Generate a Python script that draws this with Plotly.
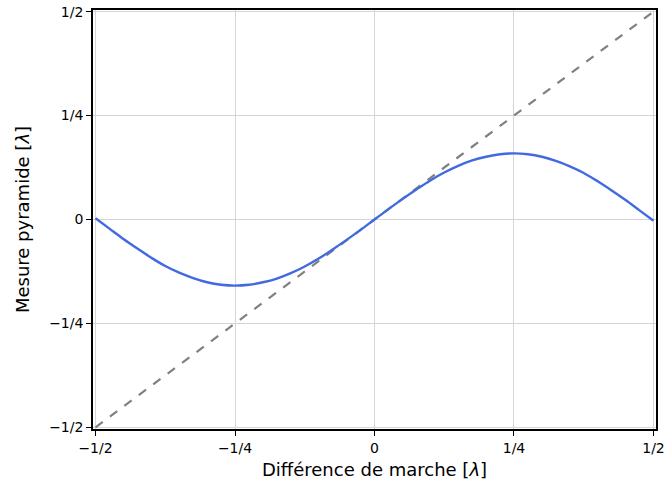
import plotly.graph_objects as go

# Data
x_vals = [-0.5, -0.475, -0.45, -0.425, -0.4, -0.375, -0.35, -0.325, -0.3, -0.275,
          -0.25, -0.225, -0.2, -0.175, -0.15, -0.125, -0.1, -0.075, -0.05, -0.025,
          0.0, 0.025, 0.05, 0.075, 0.1, 0.125, 0.15, 0.175, 0.2, 0.225,
          0.25, 0.275, 0.3, 0.325, 0.35, 0.375, 0.4, 0.425, 0.45, 0.475, 0.5]
pyramid_vals = [0.003, -0.022, -0.047, -0.070, -0.092, -0.112, -0.128, -0.141, -0.151, -0.157,
                -0.159, -0.157, -0.151, -0.142, -0.129, -0.113, -0.094, -0.072, -0.049, -0.025,
                0.0, 0.025, 0.049, 0.072, 0.094, 0.113, 0.129, 0.142, 0.151, 0.157,
                0.159, 0.157, 0.151, 0.141, 0.128, 0.112, 0.092, 0.070, 0.047, 0.022, -0.003]
ideal_x = [-0.5, 0.5]
ideal_y = [-0.5, 0.5]
tick_vals = [-0.5, -0.25, 0, 0.25, 0.5]
tick_text = ["\u22121/2", "\u22121/4", "0", "1/4", "1/2"]

fig = go.Figure()
fig.add_trace(go.Scatter(x=ideal_x, y=ideal_y, mode="lines",
                         line=dict(color="gray", width=2.2, dash="dash"),
                         showlegend=False))
fig.add_trace(go.Scatter(x=x_vals, y=pyramid_vals, mode="lines",
                         line=dict(color="royalblue", width=2.4, shape="spline"),
                         showlegend=False))

axis_common = dict(
    tickvals=tick_vals, ticktext=tick_text,
    showgrid=True, gridcolor="#d6d6d6", gridwidth=1,
    zeroline=False, showline=True, linecolor="black", linewidth=1.6, mirror=True,
    ticks="outside", ticklen=5, tickwidth=1.2, tickcolor="black",
    tickfont=dict(family="DejaVu Sans", size=14, color="black"),
    ticklabeloverflow="allow",
    automargin=False,
)
fig.update_xaxes(**axis_common, range=[-0.5045, 0.5045],
                 title=dict(text="Différence de marche [<i>λ</i>]",
                            font=dict(family="DejaVu Sans", size=18, color="black"),
                            standoff=9))
fig.update_yaxes(**axis_common, range=[-0.504, 0.504],
                 title=dict(text="Mesure pyramide [<i>λ</i>]",
                            font=dict(family="DejaVu Sans", size=18, color="black"),
                            standoff=15))
fig.update_layout(width=664, height=485,
                  margin=dict(l=93, r=8, t=10, b=56),
                  plot_bgcolor="white", paper_bgcolor="white")
fig.write_html("out.html", config={"displayModeBar": False},
               post_script="document.body.style.margin='0';")
